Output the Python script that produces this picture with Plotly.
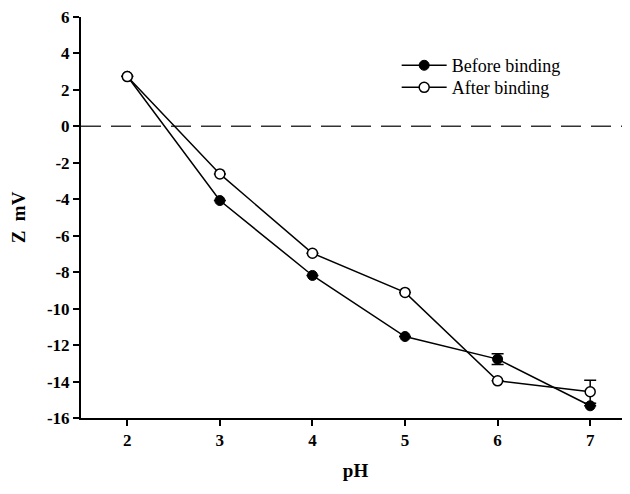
import plotly.graph_objects as go

ph = [2, 3, 4, 5, 6, 7]
before = [2.75, -4.07, -8.18, -11.53, -12.77, -15.33]
before_err = [0, 0, 0, 0, 0.3, 0]
after = [2.73, -2.61, -6.96, -9.11, -13.96, -14.56]
after_err = [0, 0, 0, 0, 0, 0.63]
y_ticks = [6, 4, 2, 0, -2, -4, -6, -8, -10, -12, -14, -16]
y_ticktext = ["6", "4", "2", "0", "-2", "-4", "-6", "-8", "-10", "-12", "-14", "-16"]
x_ticks = [2, 3, 4, 5, 6, 7]
x_ticktext = ["2", "3", "4", "5", "6", "7"]

fig = go.Figure()
fig.add_trace(go.Scatter(
    x=ph, y=before, name="Before binding", mode="lines+markers", legend="legend",
    line=dict(color="black", width=1.5),
    marker=dict(symbol="circle", size=10, color="black", line=dict(color="black", width=1)),
    error_y=dict(type="data", array=before_err, visible=True, color="black", thickness=1.5, width=6),
))
fig.add_trace(go.Scatter(
    x=ph, y=after, name="After binding", mode="lines+markers", legend="legend2",
    line=dict(color="black", width=1.5),
    marker=dict(symbol="circle", size=10, color="white", line=dict(color="black", width=1.5)),
    error_y=dict(type="data", array=after_err, visible=True, color="black", thickness=1.5, width=6),
))
fig.add_shape(type="line", xref="paper", yref="y", x0=0, x1=1, y0=0, y1=0,
              line=dict(color="#333333", width=1.5, dash="20px,10px"), layer="below")

tickfont = dict(family="Liberation Serif", size=17, color="black", weight="bold")
legfont = dict(family="Liberation Serif", size=18, color="black")
fig.update_layout(
    width=622, height=486,
    margin=dict(l=73, r=0, t=9, b=76, autoexpand=False),
    plot_bgcolor="white", paper_bgcolor="white",
    font=dict(family="Liberation Serif", color="black"),
    showlegend=True,
    legend=dict(x=0.575, y=0.925, xanchor="left", yanchor="top", font=legfont,
                bgcolor="rgba(0,0,0,0)", itemwidth=45),
    legend2=dict(x=0.575, y=0.870, xanchor="left", yanchor="top", font=legfont,
                 bgcolor="rgba(0,0,0,0)", itemwidth=45),
    xaxis=dict(range=[1.5, 7.43], tickvals=x_ticks, ticktext=x_ticktext, showgrid=False, zeroline=False,
               showline=True, linecolor="black", linewidth=2, automargin=False, ticklabeloverflow="allow",
               ticks="outside", ticklen=6, tickwidth=2, tickcolor="black", tickfont=tickfont,
               title=dict(text="<b>pH</b>", font=dict(family="Liberation Serif", size=19), standoff=14)),
    yaxis=dict(range=[-16, 6], tickvals=y_ticks, ticktext=y_ticktext, showgrid=False, zeroline=False,
               showline=True, linecolor="black", linewidth=2, automargin=False, ticklabeloverflow="allow",
               ticks="outside", ticklen=6, tickwidth=2, tickcolor="black", tickfont=tickfont,
               title=dict(text="<b>Z  mV</b>", font=dict(family="Liberation Serif", size=19), standoff=21)),
)
fig.write_html("out.html")
